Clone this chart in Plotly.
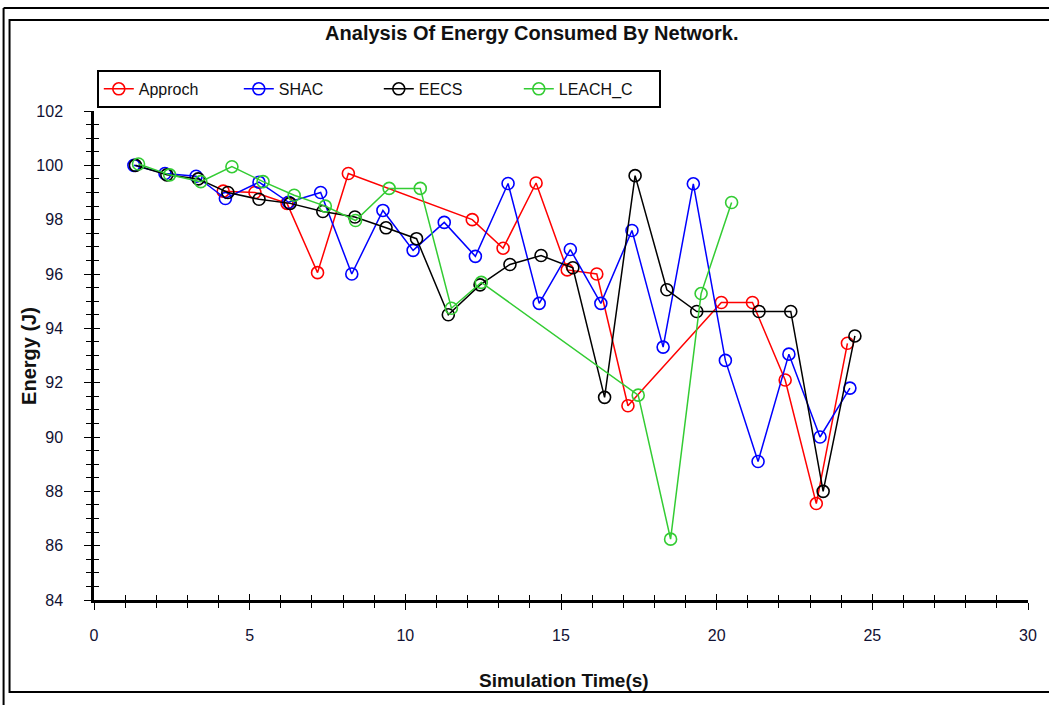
import plotly.graph_objects as go

# ---------------- data ----------------
approch_x = [4.15, 5.17, 6.2, 7.18, 8.17, 12.15, 13.14, 14.2, 15.2, 16.15, 17.15, 20.15, 21.15, 22.2, 23.2, 24.2]
approch_y = [99.05, 99.0, 98.6, 96.05, 99.7, 98.0, 96.95, 99.35, 96.15, 96.0, 91.15, 94.95, 94.95, 92.1, 87.55, 93.45]

shac_x = [1.28, 2.28, 3.28, 4.22, 5.3, 6.25, 7.28, 8.28, 9.28, 10.25, 11.25, 12.25, 13.3, 14.3, 15.3,
          16.28, 17.28, 18.28, 19.25, 20.28, 21.33, 22.32, 23.32, 24.28]
shac_y = [100.0, 99.7, 99.6, 98.78, 99.38, 98.64, 99.0, 96.0, 98.34, 96.87, 97.9, 96.65, 99.33, 94.92, 96.9,
          94.92, 97.6, 93.31, 99.32, 92.82, 89.1, 93.05, 90.0, 91.8]

eecs_x = [1.33, 2.34, 3.35, 4.3, 5.3, 6.3, 7.35, 8.38, 9.38, 10.36, 11.38, 12.4, 13.36, 14.36, 15.38,
          16.4, 17.38, 18.4, 19.36, 21.36, 22.38, 23.42, 24.44]
eecs_y = [100.0, 99.65, 99.5, 99.0, 98.75, 98.6, 98.3, 98.1, 97.7, 97.3, 94.5, 95.6, 96.35, 96.68, 96.23,
          91.46, 99.62, 95.42, 94.62, 94.62, 94.62, 88.0, 93.72]

leach_x = [1.43, 2.43, 3.43, 4.43, 5.43, 6.43, 7.43, 8.4, 9.48, 10.48, 11.48, 12.44, 17.48, 18.52, 19.5, 20.48]
leach_y = [100.05, 99.65, 99.4, 99.95, 99.4, 98.9, 98.5, 97.97, 99.15, 99.15, 94.74, 95.69, 91.54, 86.24, 95.28, 98.63]

series_names = ["Approch", "SHAC", "EECS", "LEACH_C"]
x_ticks = [0, 5, 10, 15, 20, 25, 30]
y_ticks = [84, 86, 88, 90, 92, 94, 96, 98, 100, 102]

# ---------------- style ----------------
FONT = "Liberation Sans Narrow, Arial Narrow, Liberation Sans, Arial, sans-serif"
colors = ["#ff0000", "#0000ff", "#000000", "#33cc33"]

fig = go.Figure()
for name, xs, ys, c in zip(series_names,
                           [approch_x, shac_x, eecs_x, leach_x],
                           [approch_y, shac_y, eecs_y, leach_y],
                           colors):
    fig.add_trace(go.Scatter(
        x=xs, y=ys, name=name, mode="lines+markers",
        line=dict(color=c, width=1.5),
        marker=dict(symbol="circle-open", size=12, color=c, line=dict(width=1.6, color=c)),
    ))

# helper trace so the overlay axes are drawn (crossing ticks)
fig.add_trace(go.Scatter(x=[None], y=[None], xaxis="x2", yaxis="y2", showlegend=False, hoverinfo="skip"))

axis_common = dict(showgrid=False, zeroline=False, showline=True, linecolor="black", linewidth=2.5,
                   ticks="outside", ticklen=7, tickwidth=1.3, tickcolor="black",
                   tickfont=dict(family=FONT, size=16, color="#111133"))

fig.update_layout(
    width=1049, height=705,
    margin=dict(l=94, r=15, t=111, b=105),
    paper_bgcolor="white", plot_bgcolor="white",
    font=dict(family=FONT, color="black"),
    title=dict(text="<b>Analysis Of Energy Consumed By Network.</b>", x=0.507, xanchor="center",
               y=1 - 33 / 705, yanchor="middle",
               font=dict(family=FONT, size=20, color="#111111")),
    xaxis=dict(range=[0, 30], tickvals=x_ticks, ticklabelstandoff=12,
               minor=dict(dtick=1, ticks="outside", ticklen=5, tickcolor="black", tickwidth=1),
               **axis_common),
    yaxis=dict(range=[84, 102], tickvals=y_ticks, ticklabelstandoff=18,
               minor=dict(dtick=0.5, ticks="outside", ticklen=5, tickcolor="black", tickwidth=1),
               **axis_common),
    xaxis2=dict(range=[0, 30], overlaying="x", anchor="y2", side="bottom", showgrid=False, zeroline=False,
                showline=False, ticks="inside", ticklen=6, tickwidth=1.3, tickcolor="black",
                tickvals=x_ticks, showticklabels=False,
                minor=dict(dtick=1, ticks="inside", ticklen=5, tickcolor="black", tickwidth=1)),
    yaxis2=dict(range=[84, 102], overlaying="y", anchor="x2", side="left", showgrid=False, zeroline=False,
                showline=False, ticks="inside", ticklen=6, tickwidth=1.3, tickcolor="black",
                tickvals=y_ticks, showticklabels=False,
                minor=dict(dtick=0.5, ticks="inside", ticklen=5, tickcolor="black", tickwidth=1)),
    legend=dict(orientation="h", x=0.003, y=1.084, xanchor="left", yanchor="top",
                bordercolor="black", borderwidth=2, bgcolor="white",
                entrywidth=95, entrywidthmode="pixels", itemwidth=30,
                font=dict(family=FONT, size=16, color="#111111")),
    showlegend=True,
)

# axis titles
fig.add_annotation(text="<b>Simulation Time(s)</b>", xref="paper", yref="paper", x=0.503, y=(600 - 680) / 489,
                   showarrow=False, xanchor="center", yanchor="middle",
                   font=dict(family=FONT, size=19, color="#111111"))
fig.add_annotation(text="<b>Energy (J)</b>", xref="paper", yref="paper", x=(28 - 94) / 940, y=0.50,
                   showarrow=False, textangle=-90, xanchor="center", yanchor="middle",
                   font=dict(family="Liberation Sans, Arial, sans-serif", size=20, color="#111111"))

# frame lines around the chart (paper coords relative to plot area)
def px_x(p):
    return (p - 94) / 940


def px_y(p):
    return (600 - p) / 489


fig.add_shape(type="rect", xref="paper", yref="paper", x0=px_x(9), x1=px_x(1060), y0=px_y(692), y1=px_y(20),
              line=dict(color="black", width=2), layer="below")
fig.add_shape(type="line", xref="paper", yref="paper", x0=px_x(3), x1=px_x(1060), y0=px_y(8), y1=px_y(8),
              line=dict(color="black", width=2))
fig.add_shape(type="line", xref="paper", yref="paper", x0=px_x(3), x1=px_x(3), y0=px_y(8), y1=px_y(710),
              line=dict(color="black", width=2))

fig.write_html("out.html")
